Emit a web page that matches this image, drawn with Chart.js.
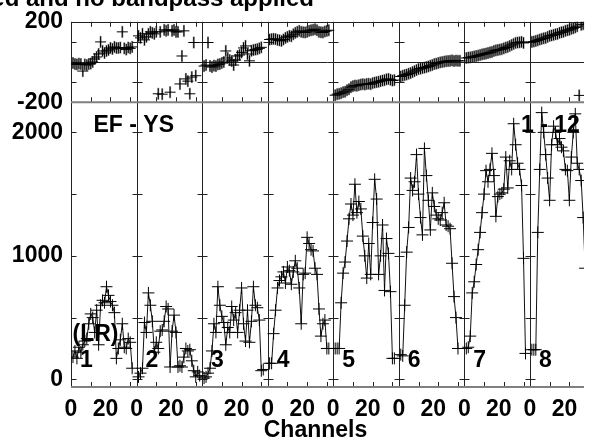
<!DOCTYPE html>
<html><head><meta charset="utf-8">
<script src="https://cdn.jsdelivr.net/npm/chart.js@4.4.0/dist/chart.umd.min.js"></script>
<style>html,body{margin:0;padding:0;background:#fff;overflow:hidden}canvas{display:block}</style>
</head><body>
<canvas id="c" width="591" height="443"></canvas>
<script>
// ---- data ----
const titleText = 'Calibrated and no bandpass applied';
const baselineText = 'EF - YS';
const ifRangeText = '1 - 12';
const stokesText = '(LR)';
const xAxisTitle = 'Channels';
const panelLabels = ['1','2','3','4','5','6','7','8'];
const xTickLabels = ['0','20'];
const phaseTicks = [-200, 200];
const ampTicks = [0, 1000, 2000];

const amp1 = [180,230,170,260,220,280,310,330,450,530,500,380,560,280,600,640,620,750,680,630,600,540,170,250,320,450,260,250,330,300,90,null];
const amp2 = [20,50,90,460,380,700,600,470,220,300,250,390,400,470,590,570,100,390,520,380,100,110,100,180,250,230,240,150,70,20,60,30];
const amp3 = [10,20,50,90,230,450,380,750,600,510,460,280,420,380,590,480,540,380,560,740,450,310,560,300,470,750,600,580,480,70,80,null];
const amp4 = [130,130,370,560,740,800,830,870,780,910,880,770,870,960,900,740,450,850,860,1150,1100,1050,1040,900,850,570,350,450,480,250,250,null];
const amp5 = [250,250,250,620,860,950,1120,1300,1420,1330,1580,1350,1440,1380,1160,1000,820,1100,850,1270,1620,1460,850,1000,1250,720,1140,1020,710,170,170,null];
const amp6 = [200,190,600,1030,1230,1630,1530,1600,1820,1500,1310,1170,1870,1650,1450,1210,1510,1400,1330,1300,1290,1350,1430,1250,1240,1220,940,670,500,250,null,null];
const amp7 = [250,260,350,700,790,930,1050,1190,1350,1500,1690,1600,1700,1830,1650,1320,1480,1500,1510,1540,1800,1550,1770,1700,2070,1900,1750,1700,1570,980,210,null];
const amp8 = [240,240,240,1190,1700,2160,2000,1820,1630,1450,1900,2050,2000,1900,1950,1880,1850,1700,1690,1450,1800,2000,2150,1750,1700,1610,1310,900,null,null,null,null];

const ph1 = [-5,-10,-12,-8,-10,-45,-12,-15,-10,-8,0,15,25,40,100,55,45,55,60,70,65,75,70,70,72,150,68,62,72,68,75,null];
const ph2 = [130,120,140,110,125,140,150,145,140,150,-158,150,-160,160,155,160,-150,155,160,150,150,-109,30,155,-84,-95,-158,-75,97,-68,null,null];
const ph3 = [-20,-15,97,-20,-25,-18,-20,-12,-10,-5,0,55,20,10,5,-15,10,30,35,48,70,80,40,6,56,60,62,64,68,73,null,null];
const ph4 = [112,114,115,114,110,108,105,112,120,125,130,128,138,145,150,155,150,148,147,150,155,158,160,163,158,150,148,147,152,155,158,null];
const ph5 = [-165,-160,-158,-155,-150,-148,-140,-135,-125,-120,-117,-118,-115,-112,-110,-112,-109,-108,-110,-105,-102,-100,-98,-95,-92,-90,-86,-84,-88,-92,-90,null];
const ph6 = [-72,-68,-65,-62,-58,-55,-50,-45,-40,-35,-33,-30,-28,-25,-22,-18,-15,-10,-8,-5,-2,0,2,4,5,6,8,5,7,6,6,null];
const ph7 = [20,22,23,25,28,30,32,35,38,40,42,45,48,50,55,58,60,62,64,68,72,75,80,85,90,95,97,98,100,95,null,null];
const ph8 = [100,102,105,108,112,115,118,120,125,130,132,135,138,140,145,148,150,155,158,160,165,168,172,178,-166,185,188,null,null,null,null,null];
const phaseErr = [30,30,30,30,30,30,30,30];

// ---- layout constants ----
const PW = 33.225; // channel units per panel
const ampSets = [amp1,amp2,amp3,amp4,amp5,amp6,amp7,amp8];
const phSets = [ph1,ph2,ph3,ph4,ph5,ph6,ph7,ph8];
const FONT = {family:'"Liberation Sans", Arial, Helvetica, sans-serif', size:23, weight:'bold'};
const FONTSTR = 'bold 23px "Liberation Sans", Arial, Helvetica, sans-serif';
const TITLEFONT = 'bold 24px "Liberation Sans", Arial, Helvetica, sans-serif';

const datasets = [];
ampSets.forEach((arr,p)=>datasets.push({
  type:'line', label:'Amp IF'+(p+1), yAxisID:'yA', xAxisID:'x',
  data: arr.map((v,i)=>({x:p*PW+i+1, y:v})),
  borderColor:'#111', borderWidth:1, fill:false, tension:0, spanGaps:false,
  pointStyle:'cross', pointRadius:6, pointHoverRadius:6,
  pointBorderColor:'#000', pointBorderWidth:1
}));
phSets.forEach((arr,p)=>datasets.push({
  type:'line', label:'Phase IF'+(p+1), yAxisID:'yP', xAxisID:'x', showLine:false,
  data: arr.map((v,i)=>({x:p*PW+i+1, y:v})),
  borderColor:'#000', borderWidth:1,
  pointStyle:'cross', pointRadius:5.5, pointHoverRadius:5.5,
  pointBorderColor:'#000', pointBorderWidth:1
}));

const frame = {
  id:'frame',
  beforeDatasetsDraw(chart){
    const {ctx, chartArea:ca, scales} = chart;
    const x = scales.x, yP = scales.yP, yA = scales.yA;
    const R = v => Math.round(v)+0.5;
    ctx.save();
    // phase error bars
    ctx.strokeStyle = '#9a9a9a'; ctx.lineWidth = 2;
    phSets.forEach((arr,p)=>arr.forEach((v,i)=>{
      if (v==null) return;
      const px = x.getPixelForValue(p*PW+i+1);
      if (px > ca.right) return;
      const e = phaseErr[p];
      const y1 = yP.getPixelForValue(Math.min(200, v+e));
      const y2 = yP.getPixelForValue(Math.max(-200, v-e));
      ctx.beginPath(); ctx.moveTo(px,y1); ctx.lineTo(px,y2); ctx.stroke();
    }));
    // panel boundaries
    ctx.strokeStyle = '#222'; ctx.lineWidth = 1;
    const starts = [];
    for (let p=0; p<=8; p++){
      const px = x.getPixelForValue(p*PW);
      if (px > ca.right+0.5) break;
      starts.push(px);
      ctx.beginPath(); ctx.moveTo(R(px), yP.top); ctx.lineTo(R(px), yA.bottom); ctx.stroke();
    }
    // top border & phase zero line
    ctx.beginPath(); ctx.moveTo(ca.left, R(yP.top)); ctx.lineTo(ca.right, R(yP.top)); ctx.stroke();
    const y0 = yP.getPixelForValue(0);
    ctx.beginPath(); ctx.moveTo(ca.left, R(y0)); ctx.lineTo(ca.right, R(y0)); ctx.stroke();
    // channel tick marks
    for (let p=0; p<8; p++){
      for (let k=1; k<=3; k++){
        const px = x.getPixelForValue(p*PW + 10*k);
        if (px > ca.right) continue;
        const xx = R(px);
        ctx.beginPath();
        ctx.moveTo(xx, yP.top); ctx.lineTo(xx, yP.top+5);
        ctx.moveTo(xx, yP.bottom); ctx.lineTo(xx, yP.bottom-5);
        ctx.moveTo(xx, yA.bottom); ctx.lineTo(xx, yA.bottom-5);
        ctx.stroke();
      }
    }
    // value ticks on panel boundaries
    starts.forEach((px,i)=>{
      const left = i===0 ? 0 : 5;
      [-100,100].forEach(v=>{ const yy=R(yP.getPixelForValue(v));
        ctx.beginPath(); ctx.moveTo(R(px)-left, yy); ctx.lineTo(R(px)+5, yy); ctx.stroke(); });
      [0,500,1000,1500,2000].forEach(v=>{ const yy=R(yA.getPixelForValue(v));
        ctx.beginPath(); ctx.moveTo(R(px)-left, yy); ctx.lineTo(R(px)+5, yy); ctx.stroke(); });
    });
    // gray bottom axes
    ctx.strokeStyle = '#808080'; ctx.lineWidth = 2;
    ctx.beginPath(); ctx.moveTo(ca.left, yP.bottom); ctx.lineTo(ca.right, yP.bottom); ctx.stroke();
    ctx.beginPath(); ctx.moveTo(ca.left, yA.bottom); ctx.lineTo(ca.right, yA.bottom); ctx.stroke();
    ctx.restore();
  },
  afterDraw(chart){
    const {ctx, scales} = chart;
    const x = scales.x;
    ctx.save();
    ctx.fillStyle = '#000'; ctx.textBaseline = 'alphabetic';
    ctx.font = TITLEFONT;
    ctx.textAlign = 'right'; ctx.fillText(titleText, 314, 6);
    ctx.font = FONTSTR;
    ctx.textAlign = 'left';
    ctx.fillText(baselineText, 93.5, 132);
    ctx.fillText(ifRangeText, 521, 132);
    ctx.fillText(stokesText, 72.5, 341);
    panelLabels.forEach((t,p)=>{
      const px = x.getPixelForValue(p*PW);
      ctx.fillText(t, px+9, 366.5);
    });
    ctx.textAlign = 'center';
    ctx.fillText(xAxisTitle, 315.5, 437);
    ctx.restore();
  }
};

const plainLabel = v => String(v);

new Chart(document.getElementById('c'), {
  type:'line',
  data:{datasets},
  options:{
    responsive:false, animation:false, devicePixelRatio:1,
    layout:{padding:{top:17,left:0,right:0,bottom:0}},
    plugins:{legend:{display:false}, title:{display:false}, tooltip:{enabled:false}},
    scales:{
      x:{type:'linear', position:'bottom', min:0, max:260,
        afterBuildTicks:s=>{ const t=[]; for(let p=0;p<8;p++){ t.push({value:p*PW}); t.push({value:p*PW+17.5}); } s.ticks=t.filter(o=>o.value<=260); },
        afterFit:s=>{ s.height = 56; },
        ticks:{autoSkip:false, maxRotation:0, minRotation:0, font:FONT, color:'#000', padding:9,
          callback:(v)=>{ const off = v - Math.floor(v/PW + 1e-6)*PW; return off < 1 ? xTickLabels[0] : xTickLabels[1]; }},
        grid:{display:false, drawTicks:false}, border:{display:false}},
      yA:{type:'linear', position:'left', stack:'v', stackWeight:288.5, min:-62, max:2244,
        afterBuildTicks:s=>{ s.ticks = ampTicks.map(v=>({value:v})); },
        afterFit:s=>{ s.width = 71; },
        ticks:{font:FONT, color:'#000', padding:8, callback:plainLabel},
        grid:{display:false, drawTicks:false}, border:{display:false}},
      yP:{type:'linear', position:'left', stack:'v', stackWeight:81.5, min:-200, max:200,
        afterBuildTicks:s=>{ s.ticks = phaseTicks.map(v=>({value:v})); },
        afterFit:s=>{ s.width = 71; },
        ticks:{font:FONT, color:'#000', padding:8, callback:plainLabel},
        grid:{display:false, drawTicks:false}, border:{display:false}}
    }
  },
  plugins:[frame]
});
</script>
</body></html>
